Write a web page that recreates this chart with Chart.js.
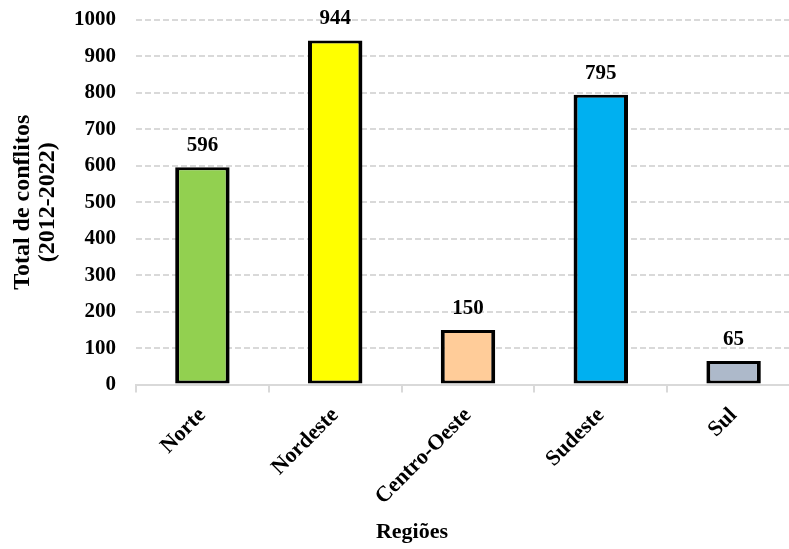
<!DOCTYPE html>
<html>
<head>
<meta charset="utf-8">
<script src="https://cdn.jsdelivr.net/npm/chart.js@4.4.0/dist/chart.umd.min.js"></script>
<style>
  html, body { margin: 0; padding: 0; background: #fff; overflow: hidden; }
  #wrap { width: 800px; height: 549px; }
</style>
</head>
<body>
<div id="wrap"><canvas id="chart" width="800" height="549"></canvas></div>
<script>
// ---------- data ----------
const regioes   = ['Norte', 'Nordeste', 'Centro-Oeste', 'Sudeste', 'Sul'];
const conflitos = [596, 944, 150, 795, 65];
const cores     = ['#92D050', '#FFFF00', '#FFCC99', '#00B0F0', '#ADB9CA'];
const yTicks    = [0, 100, 200, 300, 400, 500, 600, 700, 800, 900, 1000];

const SERIF = '"Liberation Serif", "Times New Roman", serif';

// ---------- value labels above the bars ----------
const valueLabels = {
    id: 'valueLabels',
    afterDatasetsDraw(chart) {
        const ctx = chart.ctx;
        const meta = chart.getDatasetMeta(0);
        ctx.save();
        ctx.font = 'bold 21px ' + SERIF;
        ctx.fillStyle = '#000';
        ctx.textAlign = 'center';
        ctx.textBaseline = 'alphabetic';
        meta.data.forEach((bar, i) => {
            ctx.fillText(String(conflitos[i]), bar.x, bar.y - 16);
        });
        ctx.restore();
    }
};

const ctx = document.getElementById('chart').getContext('2d');

new Chart(ctx, {
    type: 'bar',
    data: {
        labels: regioes,
        datasets: [{
            data: conflitos,
            backgroundColor: cores,
            borderColor: '#000',
            borderWidth: { top: 3, bottom: 3, left: 4, right: 4 },
            borderSkipped: false,
            categoryPercentage: 1,
            barPercentage: 0.41
        }]
    },
    options: {
        responsive: false,
        animation: false,
        // left padding shifts the full-width "Regiões" title off the plot centre
        layout: { padding: { top: 20, left: 24, right: 0, bottom: 0 } },
        plugins: {
            legend: { display: false },
            tooltip: { enabled: false },
            title: {
                display: true,
                position: 'bottom',
                fullSize: true,
                text: 'Regiões',
                color: '#000',
                font: { family: SERIF, size: 22, weight: 'bold', lineHeight: 1.2 },
                padding: { top: 0, bottom: 3 }
            }
        },
        scales: {
            x: {
                afterFit(scale) { scale.height = 135; },
                grid: {
                    drawOnChartArea: false,
                    drawTicks: true,
                    tickLength: 8,
                    color: '#D9D9D9',
                    lineWidth: 2
                },
                border: { color: '#D9D9D9', width: 2 },
                ticks: {
                    color: '#000',
                    font: { family: SERIF, size: 22, weight: 'bold' },
                    minRotation: 45,
                    maxRotation: 45,
                    padding: 10
                }
            },
            y: {
                min: 0,
                max: 1000,
                afterFit(scale) {
                    scale.width = 112;
                    scale.paddingTop = 0;
                    scale.paddingBottom = 0;
                },
                afterBuildTicks(scale) { scale.ticks = yTicks.map(v => ({ value: v })); },
                grid: {
                    color: '#D9D9D9',
                    lineWidth: 2,
                    drawTicks: false
                },
                border: { display: false, dash: [6, 3] },
                ticks: {
                    color: '#000',
                    font: { family: SERIF, size: 21, weight: 'bold' },
                    padding: 20,
                    callback: v => String(v)
                },
                title: {
                    display: true,
                    text: ['Total de conflitos', '(2012-2022)'],
                    color: '#000',
                    font: { family: SERIF, size: 24, weight: 'bold', lineHeight: 1.05 },
                    padding: { top: -14, bottom: 0 }
                }
            }
        }
    },
    plugins: [valueLabels]
});
</script>
</body>
</html>
